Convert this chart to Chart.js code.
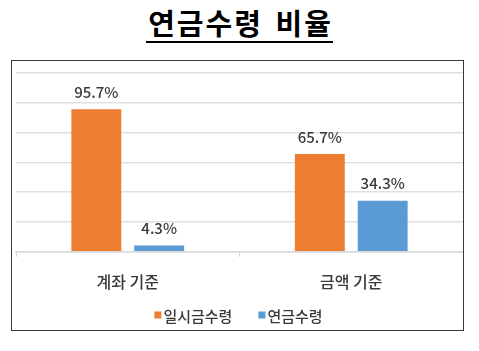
<!DOCTYPE html>
<html>
<head>
<meta charset="utf-8">
<script src="https://cdn.jsdelivr.net/npm/chart.js"></script>
<style>
  body { margin: 0; background: #fff; width: 479px; height: 351px; overflow: hidden; position: relative; }
  #titulo { position: absolute; left: 0; width: 479px; top: 1px; text-align: center;
            font-family: 'Noto Sans CJK KR', sans-serif; font-weight: 700; font-size: 29px; color: #000;
            letter-spacing: 2px; word-spacing: 4px; }
  #titulo span { border-bottom: 2px solid #000; padding: 0 0 0 2px; line-height: 38px; display: inline-block; }
  #caja { position: absolute; left: 11px; top: 60px; width: 451px; height: 269px; border: 1px solid #3a3a3a; }
</style>
</head>
<body>
<div id="titulo"><span>연금수령 비율</span></div>
<div id="caja"><canvas id="grafica" width="451" height="269"></canvas></div>
<script>
// datos del grafico
var categorias = ['계좌 기준', '금액 기준'];
var series = ['일시금수령', '연금수령'];
var valoresIlsigeum = [95.7, 65.7];
var valoresYeongeum = [4.3, 34.3];
var colores = ['#ED7D31', '#5B9BD5'];

var fuente = "'Noto Sans CJK KR', sans-serif";

// etiquetas encima de cada barra
var etiquetas = {
    id: 'etiquetas',
    afterDatasetsDraw: function(chart) {
        var ctx = chart.ctx;
        ctx.save();
        ctx.font = '500 15px ' + fuente;
        ctx.fillStyle = '#3a3a3a';
        ctx.textAlign = 'center';
        ctx.textBaseline = 'middle';
        chart.data.datasets.forEach(function(ds, i) {
            chart.getDatasetMeta(i).data.forEach(function(bar, j) {
                ctx.fillText(ds.data[j].toFixed(1) + '%', bar.x, bar.y - 17);
            });
        });
        ctx.restore();
    }
};

// leyenda dibujada abajo, con los colores de cada serie
var leyenda = {
    id: 'leyenda',
    afterDraw: function(chart) {
        var ctx = chart.ctx;
        ctx.save();
        ctx.font = '500 15px ' + fuente;
        ctx.textBaseline = 'middle';
        var caja = 7, hueco = 2, separacion = 26;
        var anchos = chart.data.datasets.map(function(ds) {
            return caja + hueco + ctx.measureText(ds.label).width;
        });
        var total = anchos.reduce(function(a, b) { return a + b; }, 0) + separacion * (anchos.length - 1);
        var x = (chart.width - total) / 2 + 1;
        var y = 254;
        chart.data.datasets.forEach(function(ds, i) {
            ctx.fillStyle = ds.backgroundColor;
            ctx.fillRect(x, y - caja / 2, caja, caja);
            ctx.fillStyle = '#3a3a3a';
            ctx.fillText(ds.label, x + caja + hueco, y + 1);
            x += anchos[i] + separacion;
        });
        ctx.restore();
    }
};

var ctx = document.getElementById('grafica').getContext('2d');
var grafica = new Chart(ctx, {
    type: 'bar',
    data: {
        labels: categorias,
        datasets: [{
            label: series[0],
            data: valoresIlsigeum,
            backgroundColor: colores[0]
        }, {
            label: series[1],
            data: valoresYeongeum,
            backgroundColor: colores[1]
        }]
    },
    options: {
        responsive: false,
        animation: false,
        categoryPercentage: 0.5625,
        barPercentage: 0.794,
        layout: { padding: { left: 4, right: 0, top: 12, bottom: 22 } },
        plugins: {
            legend: { display: false },
            tooltip: { enabled: false }
        },
        scales: {
            x: {
                grid: { display: true, offset: true, drawOnChartArea: false, drawTicks: true, tickLength: 5, color: '#d9d9d9' },
                border: { color: '#d9d9d9', width: 1.5 },
                ticks: { font: { family: fuente, size: 16, weight: '500' }, color: '#3a3a3a', padding: 16 }
            },
            y: {
                min: 0,
                max: 120,
                ticks: { display: false, stepSize: 20 },
                border: { display: false },
                grid: { color: '#e0e0e0', lineWidth: 1.5, drawTicks: false },
                afterFit: function(s) { s.width = 0; }
            }
        }
    },
    plugins: [etiquetas, leyenda]
});
</script>
</body>
</html>
